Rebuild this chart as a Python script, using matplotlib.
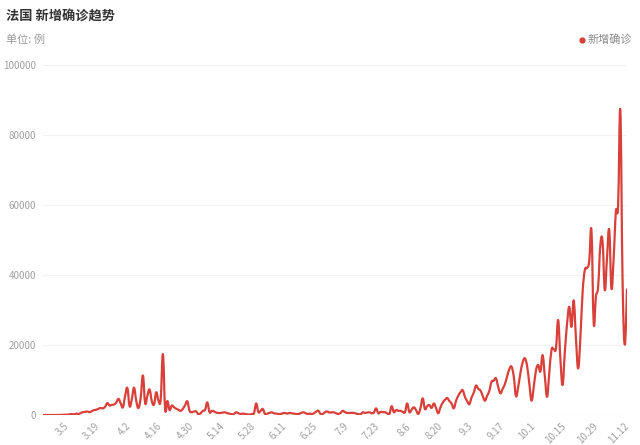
import matplotlib
matplotlib.use('Agg')
import matplotlib.pyplot as plt
from matplotlib.path import Path
from matplotlib.patches import PathPatch
from matplotlib.lines import Line2D
import datetime

plt.rcParams['font.family'] = ['Noto Sans CJK SC', 'DejaVu Sans']

# daily new cases, one value per day starting 2020-02-23
start_date = datetime.date(2020, 2, 23)
new_cases = [
    0, 0, 0, 0, 0, 0, 0, 2, 30, 60, 100, 90, 200, 280,
    180, 400, 250, 600, 800, 900, 1000, 800, 1100, 1400, 1500, 1800, 2000, 1900,
    2400, 3400, 2700, 2900, 3000, 3600, 4600, 3300, 2200, 5500, 7700, 2500, 4500, 7800,
    4000, 2000, 5000, 11300, 3400, 5500, 7300, 4000, 3000, 6500, 4100, 4500, 17400, 1700,
    4000, 1400, 2700, 2200, 1800, 1500, 1200, 1800, 2800, 3900, 1200, 800, 1000, 1000,
    200, 500, 1200, 1500, 3600, 760, 1200, 1000, 700, 570, 600, 700, 760, 500,
    400, 200, 300, 760, 500, 300, 400, 300, 200, 100, 300, 500, 3300, 800,
    1200, 1700, 300, 400, 600, 760, 500, 400, 300, 300, 500, 570, 400, 570,
    500, 400, 300, 300, 500, 760, 600, 300, 400, 300, 500, 950, 1200, 300,
    300, 800, 1000, 700, 760, 760, 500, 300, 600, 1200, 800, 600, 600, 600,
    600, 400, 300, 200, 760, 600, 700, 760, 500, 700, 1900, 500, 900, 800,
    800, 500, 300, 2500, 800, 1400, 1200, 1200, 900, 800, 3300, 800, 1500, 2200,
    1400, 300, 2000, 4750, 1700, 2500, 2850, 2000, 3300, 2000, 500, 2200, 3500, 4300,
    4850, 4000, 3300, 1900, 4000, 5500, 6500, 7100, 5200, 4000, 3100, 5000, 6400, 8400,
    7500, 7000, 5500, 4100, 5500, 6900, 9500, 9800, 10500, 8000, 6200, 7500, 8800, 11000,
    13100, 13800, 11000, 5400, 8000, 12000, 15000, 16200, 14000, 9000, 4100, 8000, 12700, 14300,
    12400, 17100, 11000, 5200, 12000, 18600, 18800, 19000, 27100, 16000, 8600, 18000, 26000, 30900,
    25200, 32700, 22000, 13300, 22000, 35000, 41400, 42000, 44000, 52700, 26300, 33800, 36700, 48600,
    49500, 35700, 45000, 52900, 36200, 45000, 58100, 60000, 87000, 38600, 20100, 35900,
]
tick_labels = ['3.5', '3.19', '4.2', '4.16', '4.30', '5.14', '5.28', '6.11', '6.25',
               '7.9', '7.23', '8.6', '8.20', '9.3', '9.17', '10.1', '10.15', '10.29', '11.12']
y_ticks = [0, 20000, 40000, 60000, 80000, 100000]

dates = [start_date + datetime.timedelta(days=i) for i in range(len(new_cases))]
date_labels = ['%d.%d' % (d.month, d.day) for d in dates]
x = list(range(len(new_cases)))
tick_pos = [date_labels.index(t) for t in tick_labels]

line_color = '#d9403a'
gray = '#a0a0a0'


def smooth_path(xs, ys, s=0.2):
    # bezier curve through the points, like a smoothed line series
    n = len(xs)
    verts = [(xs[0], ys[0])]
    codes = [Path.MOVETO]
    for i in range(n - 1):
        a = max(i - 1, 0)
        b = min(i + 2, n - 1)
        c1 = (xs[i] + (xs[i + 1] - xs[a]) * s, ys[i] + (ys[i + 1] - ys[a]) * s)
        c2 = (xs[i + 1] - (xs[b] - xs[i]) * s, ys[i + 1] - (ys[b] - ys[i]) * s)
        verts += [c1, c2, (xs[i + 1], ys[i + 1])]
        codes += [Path.CURVE4] * 3
    return Path(verts, codes)


fig = plt.figure(figsize=(6.4, 4.45), dpi=100)
ax = fig.add_axes([43 / 640, 1 - 415 / 445, 584 / 640, 350 / 445])

ax.add_patch(PathPatch(smooth_path(x, new_cases), facecolor='none',
                       edgecolor=line_color, lw=1.6, capstyle='round', joinstyle='round'))

ax.set_xlim(0, len(new_cases) - 1)
ax.set_ylim(0, 100000)
ax.set_yticks(y_ticks)
ax.set_yticklabels([str(v) for v in y_ticks])
ax.set_xticks(tick_pos)
ax.set_xticklabels(tick_labels)
ax.yaxis.grid(True, color='#f2f2f2', lw=0.9)
ax.set_axisbelow(True)
for sp in ax.spines.values():
    sp.set_visible(False)
ax.tick_params(axis='both', length=0, labelsize=7, colors=gray)
ax.tick_params(axis='y', pad=5)
ax.tick_params(axis='x', pad=7)
for lab in ax.get_xticklabels():
    lab.set_rotation(45)
    lab.set_ha('right')
    lab.set_va('center')
    lab.set_rotation_mode('anchor')

fig.text(6 / 640, 1 - 17 / 445, '法国 新增确诊趋势', fontsize=9.5, fontweight='bold',
         color='#333333', va='center', ha='left')
fig.text(6 / 640, 1 - 40 / 445, '单位: 例', fontsize=8, color='#999999', va='center', ha='left')

fig.add_artist(Line2D([582 / 640], [1 - 40 / 445], marker='o', markersize=3.5,
                      color=line_color, linestyle='none'))
fig.text(588 / 640, 1 - 40 / 445, '新增确诊', fontsize=8, color='#888888', va='center', ha='left')

fig.savefig('out.png', dpi=100)
